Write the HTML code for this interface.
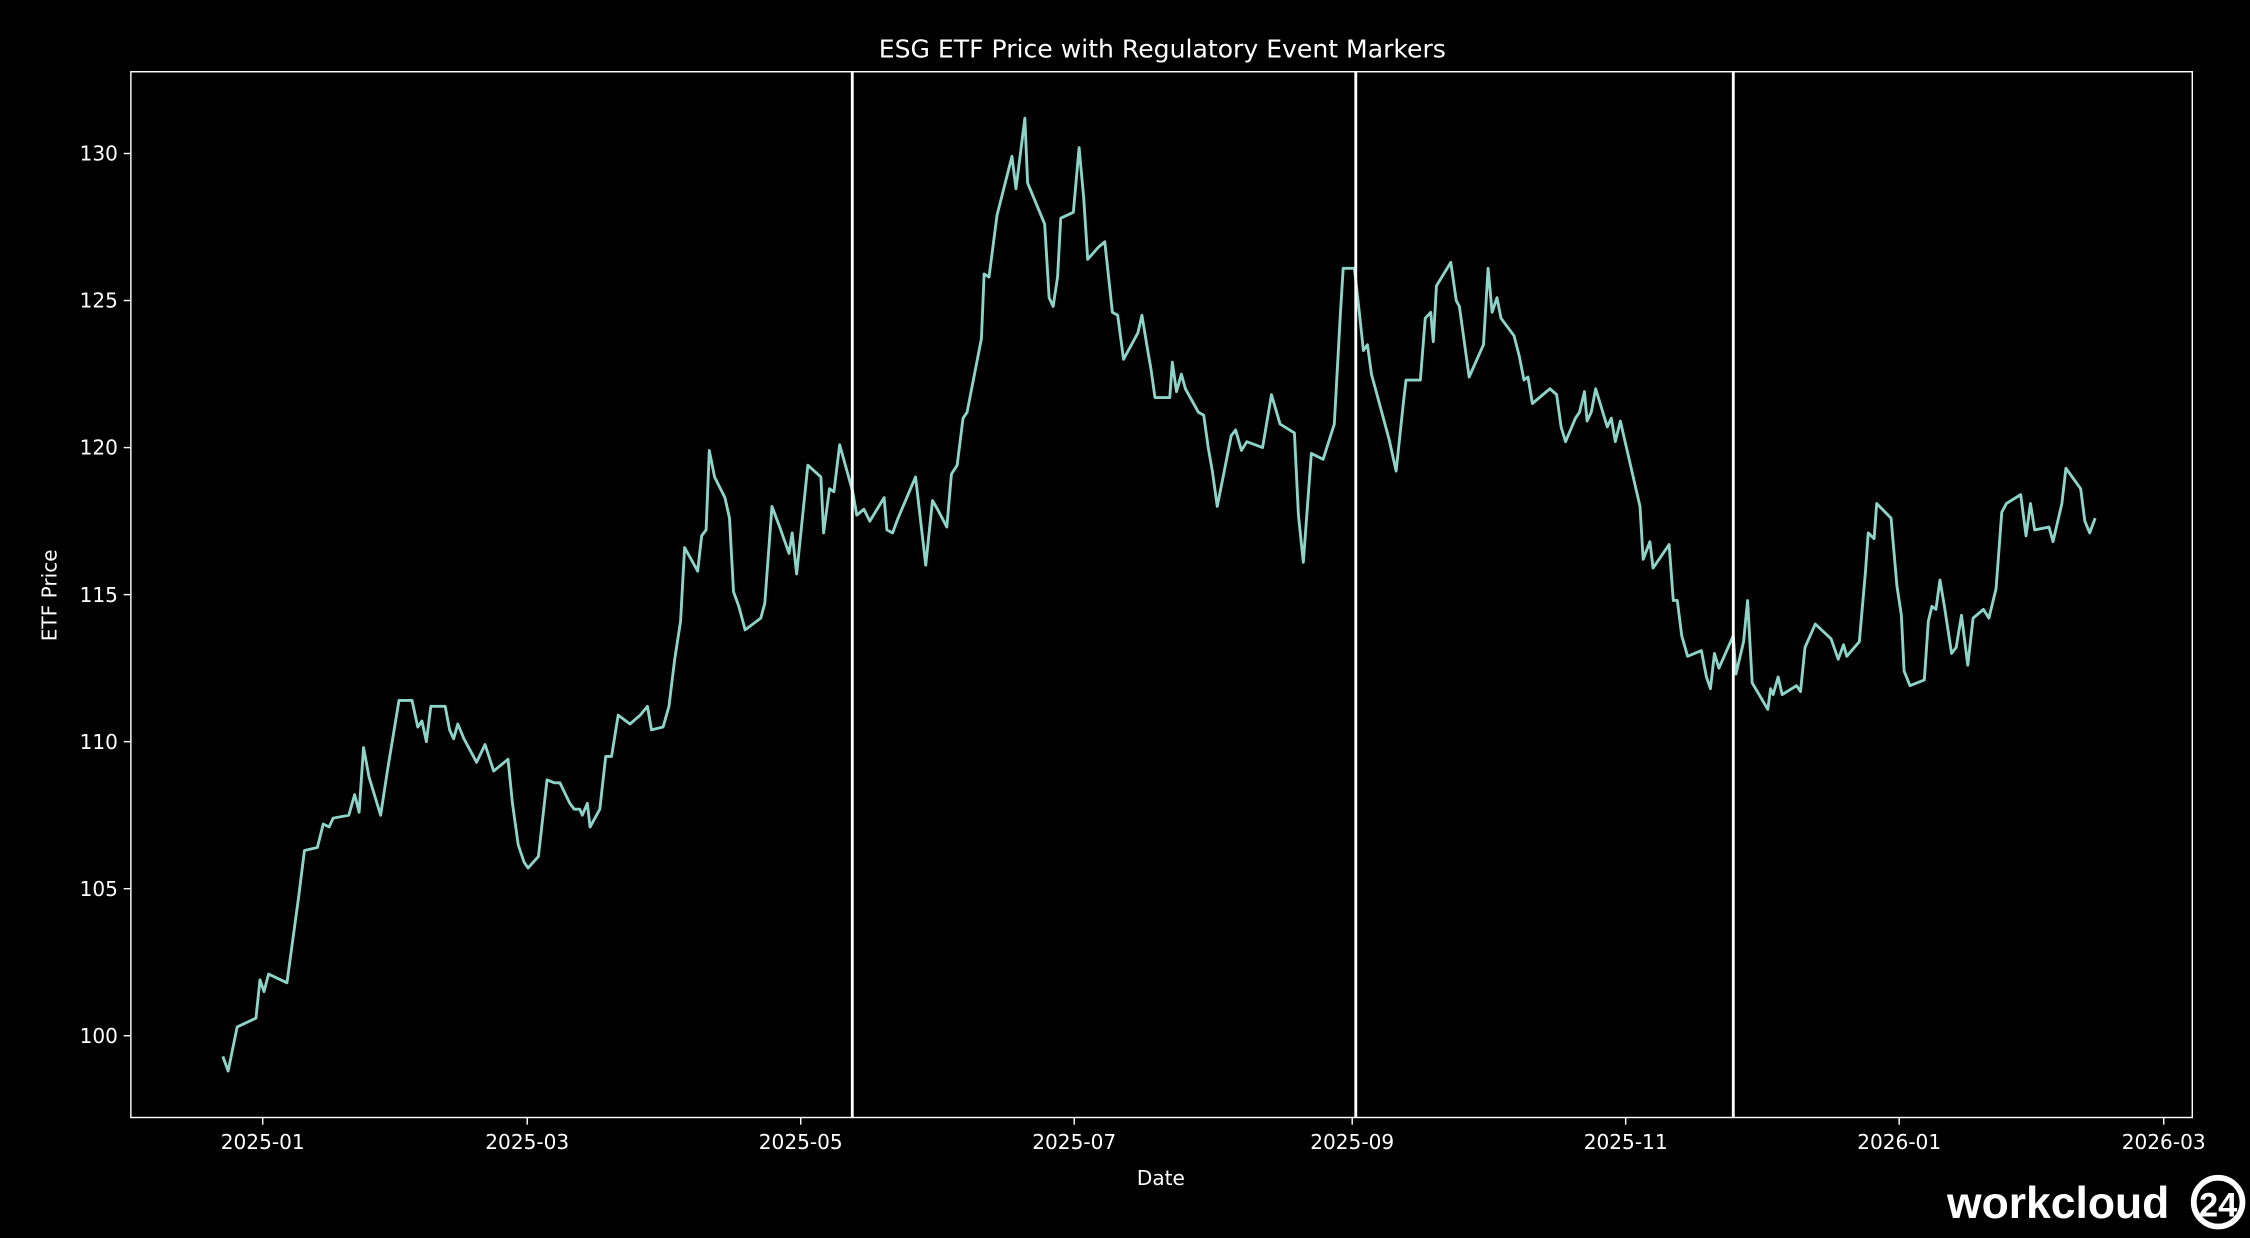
<!DOCTYPE html>
<html><head><meta charset="utf-8"><style>
html,body{margin:0;padding:0;background:#000;}
svg{display:block;}
text{font-family:"DejaVu Sans","Liberation Sans",sans-serif;fill:#fff;}
</style></head><body>
<svg id="chart" width="2250" height="1238" viewBox="0 0 1568 863" xmlns="http://www.w3.org/2000/svg">
<rect x="0" y="0" width="1568" height="863" fill="#000"/>
<text x="810" y="40" font-size="17.5" text-anchor="middle">ESG ETF Price with Regulatory Event Markers</text>
<g id="plot"></g>
<text x="809" y="826" font-size="14" text-anchor="middle">Date</text>
<text x="39" y="415" font-size="14" text-anchor="middle" transform="rotate(-90 39 415)">ETF Price</text>
<g>
<text x="1357" y="849" font-size="31" font-weight="bold" style="font-family:'Liberation Sans',sans-serif">workcloud</text>
<circle cx="1546" cy="838" r="17" fill="none" stroke="#fff" stroke-width="4"/>
<text x="1546" y="848" font-size="24" font-weight="bold" text-anchor="middle" style="font-family:'Liberation Sans',sans-serif">24</text>
</g>
</svg>
<script>
// days since 2025-01-01
const days = [-8.9,-7.7,-5.7,-1.5,-0.6,0.3,1.3,5.4,8.0,9.3,12.2,13.5,14.8,15.7,19.2,20.5,21.5,22.5,23.7,26.3,27.8,30.4,33.3,34.6,35.5,36.5,37.5,40.7,41.7,42.6,43.5,44.9,47.7,49.6,51.5,54.7,55.7,57.0,58.3,59.2,61.5,63.4,65.0,66.3,68.5,69.5,70.7,71.3,72.4,73.0,75.2,76.5,77.8,79.3,81.9,84.2,85.8,86.7,89.3,90.6,91.9,93.2,94.1,97.0,97.9,98.9,99.6,100.8,103.1,104.1,105.0,106.2,107.6,111.1,112.0,113.6,115.3,117.4,118.1,119.1,121.6,124.5,125.1,126.4,127.4,128.7,131.6,132.5,134.1,135.4,138.6,139.2,140.5,141.7,145.6,147.9,149.4,150.5,152.6,153.6,154.9,156.2,157.1,160.3,160.9,162.0,163.8,167.1,168.0,170.0,170.6,174.4,175.4,176.3,177.3,178.0,180.8,182.1,183.1,184.0,186.3,187.8,189.5,190.7,192.0,195.2,196.1,197.5,198.1,199.0,202.3,202.9,203.8,204.9,205.8,208.7,209.9,210.9,211.8,212.9,214.1,216.0,217.0,218.3,219.5,223.0,225.0,226.9,230.1,231.0,232.1,233.9,236.5,239.0,240.4,241.0,243.5,244.5,245.5,246.4,247.3,251.2,252.8,254.4,255.0,258.2,259.3,260.5,261.1,261.8,265.0,266.2,266.9,269.1,272.3,273.3,274.2,275.3,276.2,279.1,280.3,281.3,282.2,283.2,287.1,288.6,289.6,290.6,292.8,293.7,294.8,295.4,296.3,297.3,299.9,300.8,301.7,302.8,307.2,307.9,309.4,310.1,313.7,314.6,315.5,316.5,317.8,320.9,322.0,322.9,323.8,324.8,328.0,328.6,330.3,331.2,332.2,335.7,336.3,336.9,338.0,338.9,342.1,343.0,344.0,346.3,349.8,351.4,352.6,353.3,356.1,357.5,358.1,359.4,360.0,363.2,364.5,365.5,366.1,367.4,370.6,371.5,372.3,373.2,374.1,375.1,376.7,377.7,378.9,380.3,381.5,383.8,385.0,386.6,387.9,388.9,392.1,393.3,394.3,395.2,398.4,399.3,401.3,402.2,405.5,406.4,407.5,408.7];
const prices = [99.3,98.8,100.3,100.6,101.9,101.5,102.1,101.8,104.7,106.3,106.4,107.2,107.1,107.4,107.5,108.2,107.6,109.8,108.8,107.5,109.0,111.4,111.4,110.5,110.7,110.0,111.2,111.2,110.4,110.1,110.6,110.1,109.3,109.9,109.0,109.4,107.9,106.5,105.9,105.7,106.1,108.7,108.6,108.6,107.9,107.7,107.7,107.5,107.9,107.1,107.7,109.5,109.5,110.9,110.6,110.9,111.2,110.4,110.5,111.2,112.8,114.1,116.6,115.8,117.0,117.2,119.9,119.0,118.3,117.6,115.1,114.6,113.8,114.2,114.7,118.0,117.3,116.4,117.1,115.7,119.4,119.0,117.1,118.6,118.5,120.1,118.5,117.7,117.9,117.5,118.3,117.2,117.1,117.6,119.0,116.0,118.2,117.9,117.3,119.1,119.4,121.0,121.2,123.7,125.9,125.8,127.9,129.9,128.8,131.2,129.0,127.6,125.1,124.8,125.8,127.8,128.0,130.2,128.5,126.4,126.8,127.0,124.6,124.5,123.0,123.9,124.5,123.2,122.7,121.7,121.7,122.9,121.9,122.5,122.0,121.2,121.1,120.0,119.2,118.0,118.9,120.4,120.6,119.9,120.2,120.0,121.8,120.8,120.5,117.7,116.1,119.8,119.6,120.8,124.6,126.1,126.1,124.7,123.3,123.5,122.5,120.3,119.2,121.5,122.3,122.3,124.4,124.6,123.6,125.5,126.3,125.0,124.8,122.4,123.5,126.1,124.6,125.1,124.4,123.8,123.1,122.3,122.4,121.5,122.0,121.8,120.7,120.2,121.0,121.2,121.9,120.9,121.2,122.0,120.7,121.0,120.2,120.9,118.0,116.2,116.8,115.9,116.7,114.8,114.8,113.6,112.9,113.1,112.2,111.8,113.0,112.5,113.6,112.3,113.4,114.8,112.0,111.1,111.8,111.6,112.2,111.6,111.9,111.7,113.2,114.0,113.5,112.8,113.3,112.9,113.4,115.8,117.1,116.9,118.1,117.6,115.3,114.3,112.4,111.9,112.1,114.1,114.6,114.5,115.5,114.6,113.0,113.2,114.3,112.6,114.2,114.5,114.2,115.2,117.8,118.1,118.4,117.0,118.1,117.2,117.3,116.8,118.1,119.3,118.6,117.5,117.1,117.6];
const eventDays = [131.5, 243.8, 328.0];
const yTicks = [100,105,110,115,120,125,130];
const xTickLabels = ["2025-01","2025-03","2025-05","2025-07","2025-09","2025-11","2026-01","2026-03"];
const xTickDays = [0,59,120,181,243,304,365,424];

const NS="http://www.w3.org/2000/svg";
const L=91,R=1528,T=50,B=779;
const xs=d=>182.9+d*3.1254;
const ys=v=>722-(v-100)*20.5;
const plot=document.getElementById('plot');
function mk(tag,attrs,parent){const e=document.createElementNS(NS,tag);for(const k in attrs)e.setAttribute(k,attrs[k]);(parent||plot).appendChild(e);return e;}

yTicks.forEach(v=>{
  const y=ys(v);
  const t=mk('line',{x1:L-5,x2:L,y1:y,y2:y,stroke:'#fff','stroke-width':1});
  
  
  const tx=mk('text',{x:L-9,y:y+5,'font-size':14,'text-anchor':'end'});
  tx.textContent=v;
  
  
});
xTickLabels.forEach((lab,i)=>{
  const x=xs(xTickDays[i]);
  const t=mk('line',{x1:x,x2:x,y1:B,y2:B+5,stroke:'#fff','stroke-width':1});
  
  
  const tx=mk('text',{x:x,y:B+22,'font-size':14,'text-anchor':'middle'});
  tx.textContent=lab;
  
  
});
const pts=days.map((d,i)=>xs(d).toFixed(1)+','+ys(prices[i]).toFixed(1)).join(' ');
const line=mk('polyline',{points:pts,fill:'none',stroke:'#8dd3c7','stroke-width':2,'stroke-linejoin':'round'});


eventDays.forEach(d=>{
  const x=xs(d);
  const l=mk('line',{x1:x,x2:x,y1:T,y2:B,stroke:'#fff','stroke-width':2});
  
  
});
const frame=mk('rect',{x:L,y:T,width:R-L,height:B-T,fill:'none',stroke:'#fff','stroke-width':1});


</script>
</body></html>
